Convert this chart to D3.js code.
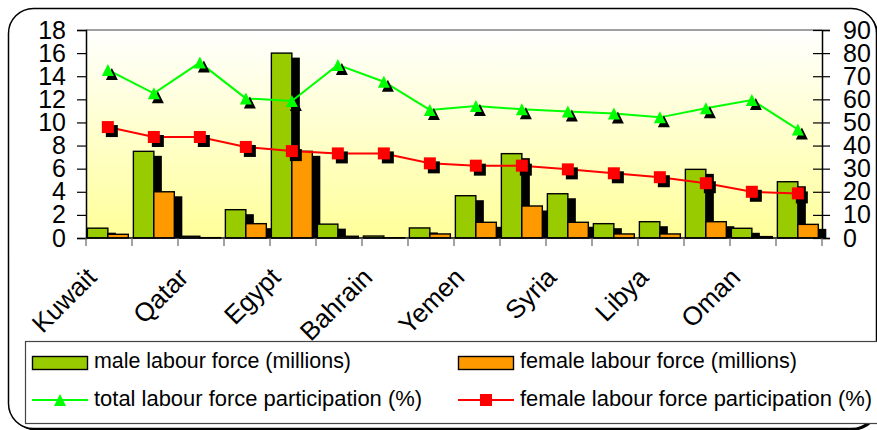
<!DOCTYPE html>
<html><head><meta charset="utf-8">
<script src="https://cdn.jsdelivr.net/npm/d3@7"></script>
<style>body{margin:0;background:#fff;} svg{display:block;font-family:"Liberation Sans",Arial,Helvetica,sans-serif;}</style>
</head><body>
<script>
// ---- data ----
const categories = ["Kuwait","Morocco","Qatar","Tunisia","Egypt","UAE","Bahrain","Jordan",
                    "Yemen","Algeria","Syria","Lebanon","Libya","Iraq","Oman","Saudi Arabia"];
const maleLabour   = [0.85, 7.5, 0.15, 2.45, 16.0, 1.2, 0.17, 0.87, 3.66, 7.3, 3.83, 1.24, 1.41, 5.94, 0.84, 4.87];
const femaleLabour = [0.32, 4.0, 0.03, 1.24, 7.5, 0.15, 0.02, 0.35, 1.36, 2.77, 1.36, 0.35, 0.35, 1.41, 0.12, 1.18];
const totalPart    = [72.7, 62.6, 75.9, 60.4, 59.3, 74.9, 67.6, 55.4, 57.1, 55.7, 54.7, 53.9, 52.2, 56.1, 59.7, 47.0];
const femalePart   = [48.0, 43.7, 43.7, 39.4, 37.6, 36.6, 36.6, 32.3, 31.3, 31.3, 29.7, 28.0, 26.3, 23.7, 20.0, 19.3];
const leftTicks  = [0,2,4,6,8,10,12,14,16,18];
const rightTicks = [0,10,20,30,40,50,60,70,80,90];
const seriesNames = ["male labour force (millions)","female labour force (millions)",
                     "total labour force participation (%)","female labour force participation (%)"];

// ---- layout ----
const W = 877, H = 430;
const plot = {l:86, r:822, t:30, b:238};
const svg = d3.select("body").append("svg").attr("width", W).attr("height", H);

const defs = svg.append("defs");
const grad = defs.append("linearGradient").attr("id","bg").attr("x1",0).attr("y1",0).attr("x2",0).attr("y2",1);
grad.append("stop").attr("offset","0%").attr("stop-color","#ffffff");
grad.append("stop").attr("offset","100%").attr("stop-color","#ffff99");

// outer frame
svg.append("rect").attr("x",10.5).attr("y",10.5).attr("width",868).attr("height",420).attr("rx",25)
  .attr("fill","#000");
svg.append("rect").attr("x",8.5).attr("y",8.5).attr("width",868).attr("height",420).attr("rx",25)
  .attr("fill","#fff").attr("stroke","#000").attr("stroke-width",1.5);

// scales
const x = d3.scaleBand().domain(categories).range([plot.l, plot.r]).padding(0);
const bw = x.bandwidth();
const y = d3.scaleLinear().domain([0,18]).range([plot.b, plot.t]);
const y2 = d3.scaleLinear().domain([0,90]).range([plot.b, plot.t]);
const barW = bw*0.445, off = bw*0.03;
const px = c => x(c) + off + barW;

// plot background
svg.append("rect").attr("x",plot.l).attr("y",plot.t).attr("width",plot.r-plot.l).attr("height",plot.b-plot.t)
  .attr("fill","url(#bg)");
svg.append("line").attr("x1",plot.l).attr("x2",plot.r).attr("y1",plot.t).attr("y2",plot.t)
  .attr("stroke","#808080").attr("stroke-width",1.5);

// bars
const rows = categories.map((c,i)=>({c, m:maleLabour[i], f:femaleLabour[i], tp:totalPart[i], fp:femalePart[i]}));
const sdx = 8, sdy = 4.5;
const barSpec = [
  {key:"m", color:"#99cc00", dxf:0},
  {key:"f", color:"#ff9900", dxf:1}
];
const gBars = svg.append("g");
barSpec.forEach(s=>{
  gBars.selectAll(null).data(rows).enter().append("rect")
    .attr("x", d=>x(d.c)+off+s.dxf*barW+sdx)
    .attr("y", d=>y(d[s.key])+sdy)
    .attr("width", barW)
    .attr("height", d=>Math.max(0, plot.b - y(d[s.key]) - sdy))
    .attr("fill","#000");
});
barSpec.forEach(s=>{
  gBars.selectAll(null).data(rows).enter().append("rect")
    .attr("x", d=>x(d.c)+off+s.dxf*barW)
    .attr("y", d=>y(d[s.key]))
    .attr("width", barW)
    .attr("height", d=>plot.b - y(d[s.key]))
    .attr("fill", s.color).attr("stroke","#000").attr("stroke-width",1.4);
});

// axes
const ax = svg.append("g");
const left = ax.append("g").attr("transform",`translate(${plot.l},0)`)
  .call(d3.axisLeft(y).tickValues(leftTicks).tickSize(9).tickPadding(11));
left.select(".domain").attr("stroke","#000").attr("stroke-width",1.5);
left.selectAll(".tick line").attr("stroke","#000").attr("stroke-width",1.2);
left.selectAll(".tick text").attr("font-size",25).attr("font-family","Liberation Sans, Arial, sans-serif").attr("fill","#000");
const right = ax.append("g").attr("transform",`translate(${plot.r},0)`)
  .call(d3.axisRight(y2).tickValues(rightTicks).tickSize(8).tickPadding(13));
right.select(".domain").attr("stroke","#000").attr("stroke-width",1.5);
right.selectAll(".tick line").attr("x1",-9).attr("stroke","#000").attr("stroke-width",1.2);
right.selectAll(".tick text").attr("font-size",25).attr("font-family","Liberation Sans, Arial, sans-serif").attr("fill","#000");
ax.append("line").attr("x1",plot.l).attr("x2",plot.r).attr("y1",plot.b).attr("y2",plot.b)
  .attr("stroke","#000").attr("stroke-width",1.5);
const bounds = categories.map(c=>x(c)).concat([x.range()[1]]);
ax.selectAll(null).data(bounds).enter().append("line")
  .attr("x1",d=>d).attr("x2",d=>d).attr("y1",plot.b).attr("y2",plot.b+8)
  .attr("stroke","#666").attr("stroke-width",1.2);
ax.selectAll(null).data(categories.filter((c,i)=>i%2===0)).enter().append("text")
  .attr("transform", c=>`translate(${x(c)+bw/2-11},279) rotate(-45)`)
  .attr("text-anchor","end").attr("font-size",26).attr("fill","#000").text(c=>c);

// lines
const triPath = "M0,-6L6,6L-6,6Z";
const sqPath = "M-6,-6H6V6H-6Z";
const lineSpec = [
  {key:"fp", color:"#ff0000", path:sqPath},
  {key:"tp", color:"#00ff00", path:triPath}
];
lineSpec.forEach(s=>{
  const g = svg.append("g");
  g.append("path").datum(rows)
    .attr("d", d3.line().x(d=>px(d.c)).y(d=>y2(d[s.key])))
    .attr("fill","none").attr("stroke",s.color).attr("stroke-width",2);
  g.selectAll(null).data(rows).enter().append("path")
    .attr("transform", d=>`translate(${px(d.c)+4},${y2(d[s.key])+4})`)
    .attr("d", s.path).attr("fill","#000");
  g.selectAll(null).data(rows).enter().append("path")
    .attr("transform", d=>`translate(${px(d.c)},${y2(d[s.key])})`)
    .attr("d", s.path).attr("fill",s.color);
});

// legend
const lg = svg.append("g");
lg.append("rect").attr("x",25.5).attr("y",341.5).attr("width",860).attr("height",82)
  .attr("fill","#fff").attr("stroke","#444").attr("stroke-width",1.2);
const legItems = [
  {name:seriesNames[0], type:"bar", color:"#99cc00", x:32, y:363, tl:257, bo:4.5},
  {name:seriesNames[1], type:"bar", color:"#ff9900", x:458, y:363, tl:277, bo:4.5},
  {name:seriesNames[2], type:"line", color:"#00ff00", path:triPath, x:32, y:400, tl:328, bo:6},
  {name:seriesNames[3], type:"line", color:"#ff0000", path:sqPath, x:458, y:400, tl:352, bo:6}
];
legItems.forEach(it=>{
  if(it.type==="bar"){
    lg.append("rect").attr("x",it.x+0.5).attr("y",it.y-6.5).attr("width",55).attr("height",13)
      .attr("fill",it.color).attr("stroke","#000").attr("stroke-width",1.4);
  } else {
    lg.append("line").attr("x1",it.x).attr("x2",it.x+56).attr("y1",it.y).attr("y2",it.y)
      .attr("stroke",it.color).attr("stroke-width",2);
    lg.append("path").attr("transform",`translate(${it.x+28},${it.y})`).attr("d",it.path).attr("fill",it.color);
  }
  lg.append("text").attr("x",it.x+62).attr("y",it.y+it.bo).attr("font-size",22)
    .attr("textLength",it.tl).attr("lengthAdjust","spacingAndGlyphs")
    .attr("fill","#000").text(it.name);
});
</script>
</body></html>
